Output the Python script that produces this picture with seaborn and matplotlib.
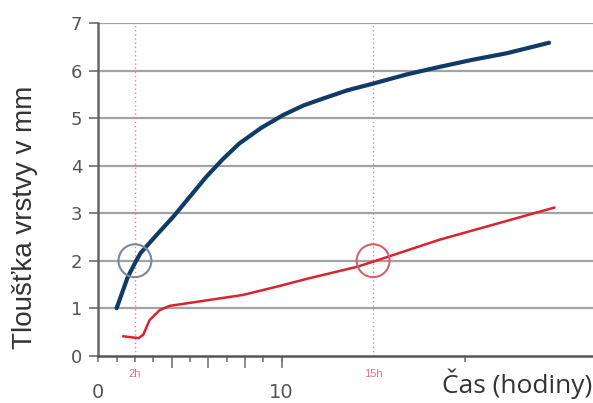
import matplotlib
matplotlib.use("Agg")
import matplotlib.pyplot as plt
import seaborn as sns
import pandas as pd

# ---- data ----
blue_x = [1.0, 1.6, 2.0, 2.3, 3.2, 4.1, 5.0, 5.9, 6.8, 7.7, 8.9, 10.1, 11.2, 12.3,
          13.6, 15.0, 16.8, 18.6, 20.4, 22.3, 24.6]
blue_y = [1.0, 1.65, 1.95, 2.16, 2.55, 2.93, 3.35, 3.77, 4.14, 4.47, 4.80, 5.07, 5.27, 5.42,
          5.59, 5.73, 5.92, 6.08, 6.23, 6.37, 6.59]

red_x = [1.35, 2.2, 2.45, 2.8, 3.35, 3.9, 5.3, 7.9, 9.7, 11.5, 14.1, 15.0, 18.6, 24.9]
red_y = [0.41, 0.37, 0.44, 0.75, 0.96, 1.05, 1.13, 1.28, 1.45, 1.63, 1.87, 1.98, 2.44, 3.12]

marker_times = [2, 15]
marker_labels = ["2h", "15h"]
circle_blue = ([2], [2])
circle_red = ([15], [2])

y_ticks = [0, 1, 2, 3, 4, 5, 6, 7]
x_major = [0, 10]
x_major_labels = ["0", "10"]
x_minor = [1, 2, 3, 5, 7, 9, 20]
x_long = [4, 6, 8, 10]

y_label = "Tloušťka vrstvy v mm"
x_label = "Čas (hodiny)"

# ---- plot ----
sns.set_theme(style="white")
plt.rcParams["font.family"] = ["Liberation Sans", "DejaVu Sans"]

fig = plt.figure(figsize=(5.93, 4.03), dpi=100)
ax = fig.add_axes([98.3 / 593, 47.3 / 403, (593 - 98.3) / 593, 332.4 / 403])

df_b = pd.DataFrame({"x": blue_x, "y": blue_y})
df_r = pd.DataFrame({"x": red_x, "y": red_y})

for y in y_ticks[1:]:
    ax.axhline(y, color="#a3a3a3", lw=1.6, zorder=0)

for t in marker_times:
    ax.axvline(t, ymin=0, ymax=1, color="#d98a9a", lw=1.0, ls=(0, (1, 2)), zorder=1)

sns.lineplot(data=df_b, x="x", y="y", ax=ax, color="#0f3b66", lw=3.0,
             sort=False, estimator=None, zorder=3)
sns.lineplot(data=df_r, x="x", y="y", ax=ax, color="#d9232e", lw=1.8,
             sort=False, estimator=None, zorder=3)

ax.scatter(circle_blue[0], circle_blue[1], s=560, facecolors="none",
           edgecolors="#7d8893", linewidths=1.5, zorder=4)
ax.scatter(circle_red[0], circle_red[1], s=560, facecolors="none",
           edgecolors="#d4606e", linewidths=1.5, zorder=4)

ax.set_xlim(0, 27)
ax.set_ylim(0, 7)

for s in ["top", "right"]:
    ax.spines[s].set_visible(False)
ax.spines["left"].set_color("#666666")
ax.spines["left"].set_linewidth(1.8)
ax.spines["bottom"].set_color("#555555")
ax.spines["bottom"].set_linewidth(1.8)

ax.set_yticks(y_ticks)
ax.set_yticklabels([str(v) for v in y_ticks], fontsize=13, color="#555555",
                   family=["DejaVu Sans"])
ax.tick_params(axis="y", direction="out", length=6.5, width=1.3, color="#777777",
               pad=5, left=True)

ax.set_xticks(x_major)
ax.set_xticklabels(x_major_labels, fontsize=14, color="#555555", family=["DejaVu Sans"])
ax.set_xticks(x_minor, minor=True)
ax.tick_params(axis="x", which="both", direction="out", length=4.3, width=1.2,
               color="#777777", bottom=True)
ax.tick_params(axis="x", which="major", pad=15)

sec = ax.secondary_xaxis("bottom")
sec.set_xticks(x_long)
sec.set_xticklabels([])
sec.tick_params(direction="out", length=8.6, width=1.2, color="#777777")
sec.spines["bottom"].set_visible(False)

ax.set_xlabel("")
ax.set_ylabel("")

for t, lab in zip(marker_times, marker_labels):
    ax.text(t, -0.385, lab, ha="center", va="center", fontsize=8,
            color="#d9738a", clip_on=False)

fig.text(25 / 593, 1 - 217.5 / 403, y_label, rotation=90, ha="center", va="center",
         fontsize=20, color="#333333")
fig.text(592 / 593, 1 - 384 / 403, x_label, ha="right", va="center",
         fontsize=19, color="#333333", family=["Open Sans", "DejaVu Sans"])

fig.savefig("out.png", dpi=100)
